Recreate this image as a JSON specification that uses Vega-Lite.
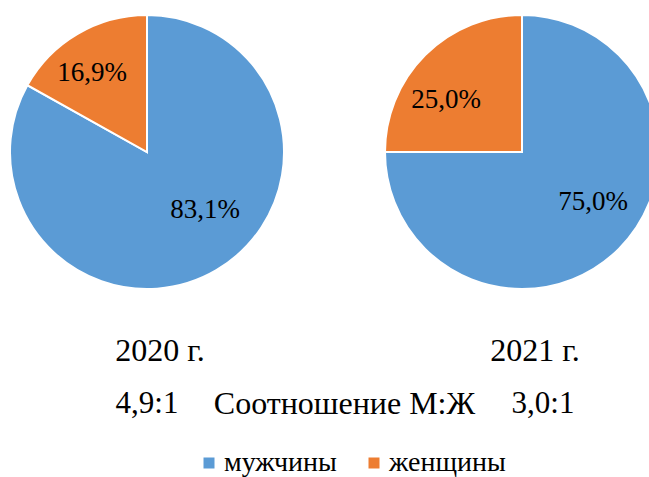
{
  "$schema": "https://vega.github.io/schema/vega-lite/v6.json",
  "width": 649,
  "height": 477,
  "autosize": "none",
  "padding": 0,
  "background": "white",
  "config": {"view": {"stroke": null}, "font": "Liberation Serif", "text": {"font": "Liberation Serif"}},
  "datasets": {
    "shares": [
      {"year": "2020", "sex": "мужчины", "value": 83.1, "label": "83,1%", "order": 1},
      {"year": "2020", "sex": "женщины", "value": 16.9, "label": "16,9%", "order": 2},
      {"year": "2021", "sex": "мужчины", "value": 75.0, "label": "75,0%", "order": 1},
      {"year": "2021", "sex": "женщины", "value": 25.0, "label": "25,0%", "order": 2}
    ],
    "years": [
      {"year": "2020", "title": "2020 г.", "ratio": "4,9:1"},
      {"year": "2021", "title": "2021 г.", "ratio": "3,0:1"}
    ],
    "middle": [
      {"year": "mid", "text": "Соотношение М:Ж"}
    ]
  },
  "layer": [
    {
      "data": {"name": "shares"},
      "transform": [
        {"stack": "value", "groupby": ["year"], "sort": [{"field": "order", "order": "ascending"}], "as": ["v0", "v1"]}
      ],
      "mark": {"type": "arc", "outerRadius": 137, "stroke": "white", "strokeWidth": 2},
      "encoding": {
        "x": {"field": "year", "type": "nominal", "scale": {"type": "point", "domain": ["2020", "mid", "2021"], "range": [147, 522], "padding": 0}, "axis": null},
        "y": {"datum": "pie", "type": "nominal", "scale": {"type": "point", "domain": ["pie", "label"], "range": [152, 351], "padding": 0}, "axis": null},
        "theta": {"field": "v0", "type": "quantitative", "scale": {"domain": [0, 100]}},
        "theta2": {"field": "v1"},
        "color": {
          "field": "sex", "type": "nominal",
          "scale": {"domain": ["мужчины", "женщины"], "range": ["#5B9BD5", "#ED7D31"]},
          "legend": {
            "title": null, "orient": "none", "direction": "horizontal",
            "legendX": 195, "legendY": 449,
            "symbolType": "square", "symbolSize": 121, "symbolStrokeWidth": 0,
            "labelFont": "Liberation Serif", "labelFontSize": 28, "labelColor": "#000000",
            "labelOffset": 1, "columnPadding": 23
          }
        }
      }
    },
    {
      "data": {"name": "shares"},
      "transform": [{"filter": "datum.year == '2020' && datum.order == 1"}],
      "mark": {"type": "text", "fontSize": 27, "dx": 58, "dy": 58, "color": "#000000"},
      "encoding": {"x": {"field": "year", "type": "nominal"}, "y": {"datum": "pie", "type": "nominal"}, "text": {"field": "label"}}
    },
    {
      "data": {"name": "shares"},
      "transform": [{"filter": "datum.year == '2020' && datum.order == 2"}],
      "mark": {"type": "text", "fontSize": 27, "dx": -55, "dy": -79, "color": "#000000"},
      "encoding": {"x": {"field": "year", "type": "nominal"}, "y": {"datum": "pie", "type": "nominal"}, "text": {"field": "label"}}
    },
    {
      "data": {"name": "shares"},
      "transform": [{"filter": "datum.year == '2021' && datum.order == 1"}],
      "mark": {"type": "text", "fontSize": 27, "dx": 71, "dy": 50, "color": "#000000"},
      "encoding": {"x": {"field": "year", "type": "nominal"}, "y": {"datum": "pie", "type": "nominal"}, "text": {"field": "label"}}
    },
    {
      "data": {"name": "shares"},
      "transform": [{"filter": "datum.year == '2021' && datum.order == 2"}],
      "mark": {"type": "text", "fontSize": 27, "dx": -76, "dy": -52, "color": "#000000"},
      "encoding": {"x": {"field": "year", "type": "nominal"}, "y": {"datum": "pie", "type": "nominal"}, "text": {"field": "label"}}
    },
    {
      "data": {"name": "years"},
      "mark": {"type": "text", "fontSize": 32, "dx": 13, "color": "#000000"},
      "encoding": {"x": {"field": "year", "type": "nominal"}, "y": {"datum": "label", "type": "nominal"}, "text": {"field": "title"}}
    },
    {
      "data": {"name": "years"},
      "transform": [{"filter": "datum.year == '2020'"}],
      "mark": {"type": "text", "fontSize": 31, "dx": 0, "dy": 53, "color": "#000000"},
      "encoding": {"x": {"field": "year", "type": "nominal"}, "y": {"datum": "label", "type": "nominal"}, "text": {"field": "ratio"}}
    },
    {
      "data": {"name": "years"},
      "transform": [{"filter": "datum.year == '2021'"}],
      "mark": {"type": "text", "fontSize": 31, "dx": 21, "dy": 53, "color": "#000000"},
      "encoding": {"x": {"field": "year", "type": "nominal"}, "y": {"datum": "label", "type": "nominal"}, "text": {"field": "ratio"}}
    },
    {
      "data": {"name": "middle"},
      "mark": {"type": "text", "fontSize": 32, "dx": 10, "dy": 53, "color": "#000000"},
      "encoding": {"x": {"field": "year", "type": "nominal"}, "y": {"datum": "label", "type": "nominal"}, "text": {"field": "text"}}
    }
  ]
}
